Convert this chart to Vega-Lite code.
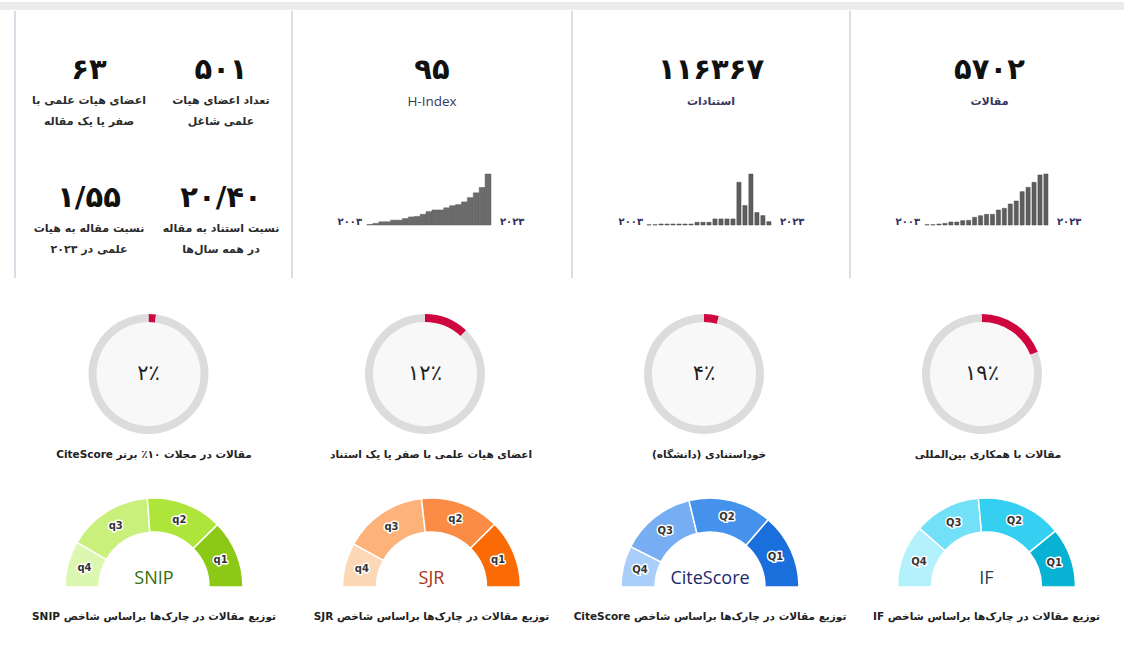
{
  "$schema": "https://vega.github.io/schema/vega-lite/v6.json",
  "padding": 0,
  "background": "#ffffff",
  "spacing": 0,
  "config": {
    "view": {"stroke": null},
    "concat": {"spacing": 0},
    "font": "DejaVu Sans",
    "text": {"font": "DejaVu Sans"},
    "title": {"font": "DejaVu Sans"}
  },
  "resolve": {"scale": {"x": "independent", "y": "independent", "color": "independent", "theta": "independent"}},
  "vconcat": [
    {"width": 1124, "height": 8, "view": {"fill": "#ebebeb", "stroke": null}, "data": {"values": [{"k": 0}]}, "mark": {"type": "text", "text": ""}},
    {
      "spacing": 0,
      "resolve": {"scale": {"x": "independent", "y": "independent", "color": "independent", "theta": "independent"}},
      "hconcat": [
        {"width": 14, "height": 267, "data": {"values": [{"k": 0}]}, "mark": {"type": "text", "text": ""}},
        {"width": 2, "height": 267, "view": {"fill": "#d6dee8", "stroke": null}, "data": {"values": [{"k": 0}]}, "mark": {"type": "text", "text": ""}},
        {
          "width": 275, "height": 267,
          "data": {"values": [
            {"col": "right", "row": "top", "value": "۵۰۱", "label": ["تعداد اعضای هیات", "علمی شاغل"]},
            {"col": "left", "row": "top", "value": "۶۳", "label": ["اعضای هیات علمی با", "صفر یا یک مقاله"]},
            {"col": "right", "row": "bottom", "value": "۲۰/۴۰", "label": ["نسبت استناد به مقاله", "در همه سال\u200cها"]},
            {"col": "left", "row": "bottom", "value": "۱/۵۵", "label": ["نسبت مقاله به هیات", "علمی در ۲۰۲۳"]}
          ]},
          "encoding": {
            "x": {"field": "col", "type": "nominal", "scale": {"type": "point", "domain": ["left", "right"], "range": [73, 205], "padding": 0}, "axis": null},
            "y": {"field": "row", "type": "nominal", "scale": {"type": "point", "domain": ["top", "bottom"], "range": [59, 187], "padding": 0}, "axis": null}
          },
          "layer": [
            {"mark": {"type": "text", "fontSize": 29, "fontWeight": "bold", "color": "#111111", "baseline": "middle"}, "encoding": {"text": {"field": "value"}}},
            {"mark": {"type": "text", "fontSize": 11, "fontWeight": "bold", "color": "#2b2b2b", "baseline": "top", "dy": 25, "lineHeight": 21}, "encoding": {"text": {"field": "label"}}}
          ]
        },
        {"width": 2, "height": 267, "view": {"fill": "#d6dee8", "stroke": null}, "data": {"values": [{"k": 0}]}, "mark": {"type": "text", "text": ""}},
        {
          "width": 278, "height": 267,
          "layer": [
            {"data": {"values": [{"value": "۹۵", "name": "H-Index"}]}, "mark": {"type": "text", "fontSize": 29, "fontWeight": "bold", "color": "#111111", "baseline": "middle", "dy": -75}, "encoding": {"text": {"field": "value"}}},
            {"data": {"values": [{"value": "۹۵", "name": "H-Index"}]}, "mark": {"type": "text", "font": "Open Sans", "fontSize": 13.5, "color": "#353860", "baseline": "middle", "dy": -43}, "encoding": {"text": {"field": "name"}}},
            {"data": {"values": [
              {"year": 2003, "h_index": 1}, {"year": 2004, "h_index": 3}, {"year": 2005, "h_index": 6}, {"year": 2006, "h_index": 6},
              {"year": 2007, "h_index": 9}, {"year": 2008, "h_index": 9}, {"year": 2009, "h_index": 12}, {"year": 2010, "h_index": 15},
              {"year": 2011, "h_index": 16}, {"year": 2012, "h_index": 20}, {"year": 2013, "h_index": 25}, {"year": 2014, "h_index": 28},
              {"year": 2015, "h_index": 28}, {"year": 2016, "h_index": 32}, {"year": 2017, "h_index": 36}, {"year": 2018, "h_index": 38},
              {"year": 2019, "h_index": 43}, {"year": 2020, "h_index": 51}, {"year": 2021, "h_index": 60}, {"year": 2022, "h_index": 70},
              {"year": 2023, "h_index": 95}
            ]},
             "mark": {"type": "bar", "color": "#6b6b6b", "stroke": "#5e5e5e", "strokeWidth": 0.5},
             "encoding": {
               "x": {"field": "year", "type": "ordinal", "scale": {"range": [74, 198], "paddingInner": 0, "paddingOuter": 0}, "axis": null},
               "y": {"field": "h_index", "type": "quantitative", "scale": {"range": [214, 163], "nice": false}, "axis": null}
             }},
            {"data": {"values": [{"year": 2003, "label": "۲۰۰۳"}]}, "mark": {"type": "text", "align": "right", "baseline": "middle", "dx": -5, "dy": -3, "fontSize": 10, "fontWeight": "bold", "color": "#2e2c5c"},
             "encoding": {"x": {"field": "year", "type": "ordinal", "bandPosition": 0, "axis": null}, "y": {"datum": 0, "type": "quantitative", "axis": null}, "text": {"field": "label"}}},
            {"data": {"values": [{"year": 2023, "label": "۲۰۲۳"}]}, "mark": {"type": "text", "align": "left", "baseline": "middle", "dx": 9, "dy": -3, "fontSize": 10, "fontWeight": "bold", "color": "#2e2c5c"},
             "encoding": {"x": {"field": "year", "type": "ordinal", "bandPosition": 1, "axis": null}, "y": {"datum": 0, "type": "quantitative", "axis": null}, "text": {"field": "label"}}}
          ]
        },
        {"width": 2, "height": 267, "view": {"fill": "#d6dee8", "stroke": null}, "data": {"values": [{"k": 0}]}, "mark": {"type": "text", "text": ""}},
        {
          "width": 276, "height": 267,
          "layer": [
            {"data": {"values": [{"value": "۱۱۶۳۶۷", "name": "استنادات"}]}, "mark": {"type": "text", "fontSize": 29, "fontWeight": "bold", "color": "#111111", "baseline": "middle", "dy": -75}, "encoding": {"text": {"field": "value"}}},
            {"data": {"values": [{"value": "۱۱۶۳۶۷", "name": "استنادات"}]}, "mark": {"type": "text", "fontSize": 11, "fontWeight": "bold", "color": "#353860", "baseline": "middle", "dy": -43}, "encoding": {"text": {"field": "name"}}},
            {"data": {"values": [
              {"year": 2003, "citations": 150}, {"year": 2004, "citations": 220}, {"year": 2005, "citations": 660}, {"year": 2006, "citations": 660},
              {"year": 2007, "citations": 660}, {"year": 2008, "citations": 660}, {"year": 2009, "citations": 660}, {"year": 2010, "citations": 660},
              {"year": 2011, "citations": 1770}, {"year": 2012, "citations": 1770}, {"year": 2013, "citations": 1770}, {"year": 2014, "citations": 3970},
              {"year": 2015, "citations": 3970}, {"year": 2016, "citations": 3970}, {"year": 2017, "citations": 3970}, {"year": 2018, "citations": 28040},
              {"year": 2019, "citations": 12810}, {"year": 2020, "citations": 33440}, {"year": 2021, "citations": 8170}, {"year": 2022, "citations": 6180},
              {"year": 2023, "citations": 2210}
            ]},
             "mark": {"type": "bar", "color": "#5e5e5e", "stroke": "#4a4a4a", "strokeWidth": 0.5},
             "encoding": {
               "x": {"field": "year", "type": "ordinal", "scale": {"range": [74, 198], "paddingInner": 0.3, "paddingOuter": 0}, "axis": null},
               "y": {"field": "citations", "type": "quantitative", "scale": {"range": [214, 163], "nice": false}, "axis": null}
             }},
            {"data": {"values": [{"year": 2003, "label": "۲۰۰۳"}]}, "mark": {"type": "text", "align": "right", "baseline": "middle", "dx": -4, "dy": -3, "fontSize": 10, "fontWeight": "bold", "color": "#2e2c5c"},
             "encoding": {"x": {"field": "year", "type": "ordinal", "bandPosition": 0, "axis": null}, "y": {"datum": 0, "type": "quantitative", "axis": null}, "text": {"field": "label"}}},
            {"data": {"values": [{"year": 2023, "label": "۲۰۲۳"}]}, "mark": {"type": "text", "align": "left", "baseline": "middle", "dx": 9, "dy": -3, "fontSize": 10, "fontWeight": "bold", "color": "#2e2c5c"},
             "encoding": {"x": {"field": "year", "type": "ordinal", "bandPosition": 1, "axis": null}, "y": {"datum": 0, "type": "quantitative", "axis": null}, "text": {"field": "label"}}}
          ]
        },
        {"width": 2, "height": 267, "view": {"fill": "#d6dee8", "stroke": null}, "data": {"values": [{"k": 0}]}, "mark": {"type": "text", "text": ""}},
        {
          "width": 273, "height": 267,
          "layer": [
            {"data": {"values": [{"value": "۵۷۰۲", "name": "مقالات"}]}, "mark": {"type": "text", "fontSize": 29, "fontWeight": "bold", "color": "#111111", "baseline": "middle", "dy": -75, "dx": 2}, "encoding": {"text": {"field": "value"}}},
            {"data": {"values": [{"value": "۵۷۰۲", "name": "مقالات"}]}, "mark": {"type": "text", "fontSize": 11, "fontWeight": "bold", "color": "#353860", "baseline": "middle", "dy": -43, "dx": 2}, "encoding": {"text": {"field": "name"}}},
            {"data": {"values": [
              {"year": 2003, "articles": 5}, {"year": 2004, "articles": 5}, {"year": 2005, "articles": 16}, {"year": 2006, "articles": 27},
              {"year": 2007, "articles": 49}, {"year": 2008, "articles": 49}, {"year": 2009, "articles": 71}, {"year": 2010, "articles": 76},
              {"year": 2011, "articles": 126}, {"year": 2012, "articles": 153}, {"year": 2013, "articles": 175}, {"year": 2014, "articles": 175},
              {"year": 2015, "articles": 246}, {"year": 2016, "articles": 273}, {"year": 2017, "articles": 344}, {"year": 2018, "articles": 393},
              {"year": 2019, "articles": 546}, {"year": 2020, "articles": 617}, {"year": 2021, "articles": 699}, {"year": 2022, "articles": 819},
              {"year": 2023, "articles": 835}
            ]},
             "mark": {"type": "bar", "color": "#5e5e5e", "stroke": "#4a4a4a", "strokeWidth": 0.5},
             "encoding": {
               "x": {"field": "year", "type": "ordinal", "scale": {"range": [74, 197], "paddingInner": 0.3, "paddingOuter": 0}, "axis": null},
               "y": {"field": "articles", "type": "quantitative", "scale": {"range": [214, 163], "nice": false}, "axis": null}
             }},
            {"data": {"values": [{"year": 2003, "label": "۲۰۰۳"}]}, "mark": {"type": "text", "align": "right", "baseline": "middle", "dx": -5, "dy": -3, "fontSize": 10, "fontWeight": "bold", "color": "#2e2c5c"},
             "encoding": {"x": {"field": "year", "type": "ordinal", "bandPosition": 0, "axis": null}, "y": {"datum": 0, "type": "quantitative", "axis": null}, "text": {"field": "label"}}},
            {"data": {"values": [{"year": 2023, "label": "۲۰۲۳"}]}, "mark": {"type": "text", "align": "left", "baseline": "middle", "dx": 9, "dy": -3, "fontSize": 10, "fontWeight": "bold", "color": "#2e2c5c"},
             "encoding": {"x": {"field": "year", "type": "ordinal", "bandPosition": 1, "axis": null}, "y": {"datum": 0, "type": "quantitative", "axis": null}, "text": {"field": "label"}}}
          ]
        }
      ]
    },
    {
      "spacing": 0,
      "resolve": {"scale": {"x": "independent", "y": "independent", "color": "independent", "theta": "independent"}},
      "hconcat": [
        {"width": 10, "height": 192, "data": {"values": [{"k": 0}]}, "mark": {"type": "text", "text": ""}},
        {
          "width": 277, "height": 192,
          "layer": [
            {"data": {"values": [{"metric": "\u202bمقالات در مجلات ۱۰٪ برتر CiteScore\u202c", "center": "۲٪"}]}, "mark": {"type": "arc", "theta": 0, "theta2": 6.2832, "radius": 52, "radius2": 0, "color": "#f8f8f8"}, "encoding": {}},
            {"data": {"values": [{"part": "value", "pct": 2, "ord": 1}, {"part": "rest", "pct": 98, "ord": 2}]}, "mark": {"type": "arc", "radius": 60, "radius2": 52},
             "encoding": {"theta": {"field": "pct", "type": "quantitative", "stack": true}, "order": {"field": "ord"}, "color": {"field": "part", "type": "nominal", "scale": {"domain": ["value", "rest"], "range": ["#d0063f", "#dcdcdc"]}, "legend": null}}},
            {"data": {"values": [{"metric": "\u202bمقالات در مجلات ۱۰٪ برتر CiteScore\u202c", "center": "۲٪"}]}, "mark": {"type": "text", "fontSize": 21, "color": "#1e1e1e", "baseline": "middle"}, "encoding": {"text": {"field": "center"}}},
            {"data": {"values": [{"metric": "\u202bمقالات در مجلات ۱۰٪ برتر CiteScore\u202c", "center": "۲٪"}]}, "mark": {"type": "text", "fontSize": 10.5, "fontWeight": "bold", "color": "#222222", "baseline": "middle", "dy": 81, "dx": 5.5}, "encoding": {"text": {"field": "metric"}}}
          ]
        },
        {
          "width": 276, "height": 192,
          "layer": [
            {"data": {"values": [{"metric": "\u202bاعضای هیات علمی با صفر یا یک استناد\u202c", "center": "۱۲٪"}]}, "mark": {"type": "arc", "theta": 0, "theta2": 6.2832, "radius": 52, "radius2": 0, "color": "#f8f8f8"}, "encoding": {}},
            {"data": {"values": [{"part": "value", "pct": 12, "ord": 1}, {"part": "rest", "pct": 88, "ord": 2}]}, "mark": {"type": "arc", "radius": 60, "radius2": 52},
             "encoding": {"theta": {"field": "pct", "type": "quantitative", "stack": true}, "order": {"field": "ord"}, "color": {"field": "part", "type": "nominal", "scale": {"domain": ["value", "rest"], "range": ["#d0063f", "#dcdcdc"]}, "legend": null}}},
            {"data": {"values": [{"metric": "\u202bاعضای هیات علمی با صفر یا یک استناد\u202c", "center": "۱۲٪"}]}, "mark": {"type": "text", "fontSize": 21, "color": "#1e1e1e", "baseline": "middle"}, "encoding": {"text": {"field": "center"}}},
            {"data": {"values": [{"metric": "\u202bاعضای هیات علمی با صفر یا یک استناد\u202c", "center": "۱۲٪"}]}, "mark": {"type": "text", "fontSize": 10.5, "fontWeight": "bold", "color": "#222222", "baseline": "middle", "dy": 81, "dx": 6}, "encoding": {"text": {"field": "metric"}}}
          ]
        },
        {
          "width": 282, "height": 192,
          "layer": [
            {"data": {"values": [{"metric": "\u202bخوداستنادی (دانشگاه)\u202c", "center": "۴٪"}]}, "mark": {"type": "arc", "theta": 0, "theta2": 6.2832, "radius": 52, "radius2": 0, "color": "#f8f8f8"}, "encoding": {}},
            {"data": {"values": [{"part": "value", "pct": 4, "ord": 1}, {"part": "rest", "pct": 96, "ord": 2}]}, "mark": {"type": "arc", "radius": 60, "radius2": 52},
             "encoding": {"theta": {"field": "pct", "type": "quantitative", "stack": true}, "order": {"field": "ord"}, "color": {"field": "part", "type": "nominal", "scale": {"domain": ["value", "rest"], "range": ["#d0063f", "#dcdcdc"]}, "legend": null}}},
            {"data": {"values": [{"metric": "\u202bخوداستنادی (دانشگاه)\u202c", "center": "۴٪"}]}, "mark": {"type": "text", "fontSize": 21, "color": "#1e1e1e", "baseline": "middle"}, "encoding": {"text": {"field": "center"}}},
            {"data": {"values": [{"metric": "\u202bخوداستنادی (دانشگاه)\u202c", "center": "۴٪"}]}, "mark": {"type": "text", "fontSize": 10.5, "fontWeight": "bold", "color": "#222222", "baseline": "middle", "dy": 81, "dx": 5}, "encoding": {"text": {"field": "metric"}}}
          ]
        },
        {
          "width": 274, "height": 192,
          "layer": [
            {"data": {"values": [{"metric": "\u202bمقالات با همکاری بین\u200cالمللی\u202c", "center": "۱۹٪"}]}, "mark": {"type": "arc", "theta": 0, "theta2": 6.2832, "radius": 52, "radius2": 0, "color": "#f8f8f8"}, "encoding": {}},
            {"data": {"values": [{"part": "value", "pct": 19, "ord": 1}, {"part": "rest", "pct": 81, "ord": 2}]}, "mark": {"type": "arc", "radius": 60, "radius2": 52},
             "encoding": {"theta": {"field": "pct", "type": "quantitative", "stack": true}, "order": {"field": "ord"}, "color": {"field": "part", "type": "nominal", "scale": {"domain": ["value", "rest"], "range": ["#d0063f", "#dcdcdc"]}, "legend": null}}},
            {"data": {"values": [{"metric": "\u202bمقالات با همکاری بین\u200cالمللی\u202c", "center": "۱۹٪"}]}, "mark": {"type": "text", "fontSize": 21, "color": "#1e1e1e", "baseline": "middle"}, "encoding": {"text": {"field": "center"}}},
            {"data": {"values": [{"metric": "\u202bمقالات با همکاری بین\u200cالمللی\u202c", "center": "۱۹٪"}]}, "mark": {"type": "text", "fontSize": 10.5, "fontWeight": "bold", "color": "#222222", "baseline": "middle", "dy": 81, "dx": 6}, "encoding": {"text": {"field": "metric"}}}
          ]
        },
        {"width": 5, "height": 192, "data": {"values": [{"k": 0}]}, "mark": {"type": "text", "text": ""}}
      ]
    },
    {
      "spacing": 0,
      "resolve": {"scale": {"x": "independent", "y": "independent", "color": "independent", "theta": "independent"}},
      "hconcat": [
        {"width": 16, "height": 117, "data": {"values": [{"k": 0}]}, "mark": {"type": "text", "text": ""}},
        {
          "width": 276, "height": 117,
          "title": {"text": "\u202bتوزیع مقالات در چارک\u200cها براساس شاخص SNIP\u202c", "orient": "bottom", "offset": 22, "fontSize": 10.5, "fontWeight": "bold", "color": "#222222", "anchor": "middle"},
          "data": {"values": [{"quartile": "q4", "share": 16.7, "ord": 1}, {"quartile": "q3", "share": 30.9, "ord": 2}, {"quartile": "q2", "share": 27.7, "ord": 3}, {"quartile": "q1", "share": 24.7, "ord": 4}]},
          "encoding": {
            "theta": {"field": "share", "type": "quantitative", "stack": true, "scale": {"domain": [0, 100], "range": [-1.5708, 1.5708]}},
            "order": {"field": "ord"}
          },
          "layer": [
            {"mark": {"type": "arc", "radius": 89, "radius2": 55, "y": "height", "stroke": "#ffffff", "strokeWidth": 1.5},
             "encoding": {"color": {"field": "quartile", "type": "nominal", "scale": {"domain": ["q4", "q3", "q2", "q1"], "range": ["#dcf7b0", "#c8f07a", "#ade53a", "#8cc916"]}, "legend": null}}},
            {"mark": {"type": "text", "radius": 72, "y": "height", "fontSize": 10, "fontWeight": "bold", "color": "#ffffff", "stroke": "#ffffff", "strokeWidth": 3, "strokeJoin": "round"}, "encoding": {"text": {"field": "quartile"}}},
            {"mark": {"type": "text", "radius": 72, "y": "height", "fontSize": 10, "fontWeight": "bold", "color": "#333333"}, "encoding": {"text": {"field": "quartile"}}},
            {"data": {"values": [{"index": "SNIP"}]}, "mark": {"type": "text", "y": "height", "dy": -3, "baseline": "alphabetic", "font": "Open Sans", "fontSize": 18, "color": "#33700c"}, "encoding": {"theta": null, "order": null, "text": {"field": "index"}}}
          ]
        },
        {
          "width": 279, "height": 117,
          "title": {"text": "\u202bتوزیع مقالات در چارک\u200cها براساس شاخص SJR\u202c", "orient": "bottom", "offset": 22, "fontSize": 10.5, "fontWeight": "bold", "color": "#222222", "anchor": "middle"},
          "data": {"values": [{"quartile": "q4", "share": 16.1, "ord": 1}, {"quartile": "q3", "share": 30.3, "ord": 2}, {"quartile": "q2", "share": 28.7, "ord": 3}, {"quartile": "q1", "share": 24.9, "ord": 4}]},
          "encoding": {
            "theta": {"field": "share", "type": "quantitative", "stack": true, "scale": {"domain": [0, 100], "range": [-1.5708, 1.5708]}},
            "order": {"field": "ord"}
          },
          "layer": [
            {"mark": {"type": "arc", "radius": 89, "radius2": 55, "y": "height", "stroke": "#ffffff", "strokeWidth": 1.5},
             "encoding": {"color": {"field": "quartile", "type": "nominal", "scale": {"domain": ["q4", "q3", "q2", "q1"], "range": ["#fdd8b6", "#fdb27a", "#fb8c45", "#fa6a05"]}, "legend": null}}},
            {"mark": {"type": "text", "radius": 72, "y": "height", "fontSize": 10, "fontWeight": "bold", "color": "#ffffff", "stroke": "#ffffff", "strokeWidth": 3, "strokeJoin": "round"}, "encoding": {"text": {"field": "quartile"}}},
            {"mark": {"type": "text", "radius": 72, "y": "height", "fontSize": 10, "fontWeight": "bold", "color": "#333333"}, "encoding": {"text": {"field": "quartile"}}},
            {"data": {"values": [{"index": "SJR"}]}, "mark": {"type": "text", "y": "height", "dy": -3, "baseline": "alphabetic", "font": "Open Sans", "fontSize": 18, "color": "#ab3418"}, "encoding": {"theta": null, "order": null, "text": {"field": "index"}}}
          ]
        },
        {
          "width": 278, "height": 117,
          "title": {"text": "\u202bتوزیع مقالات در چارک\u200cها براساس شاخص CiteScore\u202c", "orient": "bottom", "offset": 22, "fontSize": 10.5, "fontWeight": "bold", "color": "#222222", "anchor": "middle"},
          "data": {"values": [{"quartile": "Q4", "share": 15.0, "ord": 1}, {"quartile": "Q3", "share": 27.4, "ord": 2}, {"quartile": "Q2", "share": 30.3, "ord": 3}, {"quartile": "Q1", "share": 27.3, "ord": 4}]},
          "encoding": {
            "theta": {"field": "share", "type": "quantitative", "stack": true, "scale": {"domain": [0, 100], "range": [-1.5708, 1.5708]}},
            "order": {"field": "ord"}
          },
          "layer": [
            {"mark": {"type": "arc", "radius": 89, "radius2": 55, "y": "height", "stroke": "#ffffff", "strokeWidth": 1.5},
             "encoding": {"color": {"field": "quartile", "type": "nominal", "scale": {"domain": ["Q4", "Q3", "Q2", "Q1"], "range": ["#a9cef9", "#77aef3", "#4592ec", "#1b6fdc"]}, "legend": null}}},
            {"mark": {"type": "text", "radius": 72, "y": "height", "fontSize": 10, "fontWeight": "bold", "color": "#ffffff", "stroke": "#ffffff", "strokeWidth": 3, "strokeJoin": "round"}, "encoding": {"text": {"field": "quartile"}}},
            {"mark": {"type": "text", "radius": 72, "y": "height", "fontSize": 10, "fontWeight": "bold", "color": "#333333"}, "encoding": {"text": {"field": "quartile"}}},
            {"data": {"values": [{"index": "CiteScore"}]}, "mark": {"type": "text", "y": "height", "dy": -3, "baseline": "alphabetic", "font": "Open Sans", "fontSize": 18, "color": "#1a2a6c"}, "encoding": {"theta": null, "order": null, "text": {"field": "index"}}}
          ]
        },
        {
          "width": 275, "height": 117,
          "title": {"text": "\u202bتوزیع مقالات در چارک\u200cها براساس شاخص IF\u202c", "orient": "bottom", "offset": 22, "fontSize": 10.5, "fontWeight": "bold", "color": "#222222", "anchor": "middle"},
          "data": {"values": [{"quartile": "Q4", "share": 22.9, "ord": 1}, {"quartile": "Q3", "share": 24.2, "ord": 2}, {"quartile": "Q2", "share": 31.2, "ord": 3}, {"quartile": "Q1", "share": 21.7, "ord": 4}]},
          "encoding": {
            "theta": {"field": "share", "type": "quantitative", "stack": true, "scale": {"domain": [0, 100], "range": [-1.5708, 1.5708]}},
            "order": {"field": "ord"}
          },
          "layer": [
            {"mark": {"type": "arc", "radius": 89, "radius2": 55, "y": "height", "stroke": "#ffffff", "strokeWidth": 1.5},
             "encoding": {"color": {"field": "quartile", "type": "nominal", "scale": {"domain": ["Q4", "Q3", "Q2", "Q1"], "range": ["#b3f1fc", "#72e1f7", "#35d0f1", "#08b2d3"]}, "legend": null}}},
            {"mark": {"type": "text", "radius": 72, "y": "height", "fontSize": 10, "fontWeight": "bold", "color": "#ffffff", "stroke": "#ffffff", "strokeWidth": 3, "strokeJoin": "round"}, "encoding": {"text": {"field": "quartile"}}},
            {"mark": {"type": "text", "radius": 72, "y": "height", "fontSize": 10, "fontWeight": "bold", "color": "#333333"}, "encoding": {"text": {"field": "quartile"}}},
            {"data": {"values": [{"index": "IF"}]}, "mark": {"type": "text", "y": "height", "dy": -3, "baseline": "alphabetic", "font": "Open Sans", "fontSize": 18, "color": "#1e3f52"}, "encoding": {"theta": null, "order": null, "text": {"field": "index"}}}
          ]
        }
      ]
    }
  ]
}
